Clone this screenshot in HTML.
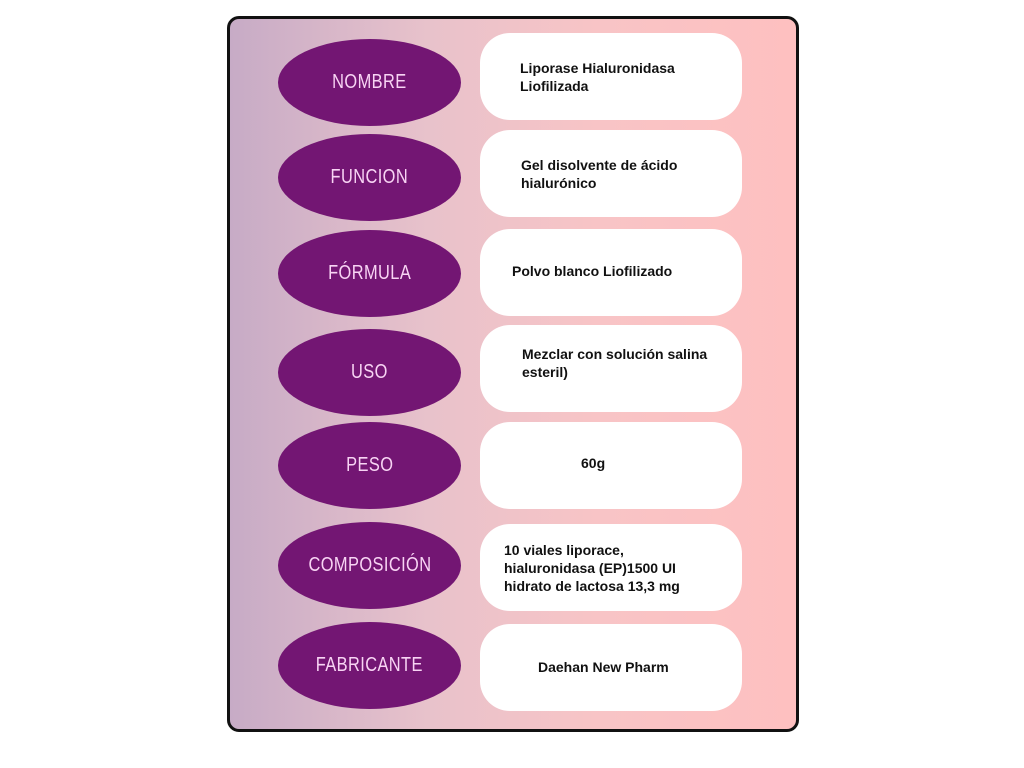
<!DOCTYPE html>
<html><head><meta charset="utf-8"><style>
body{margin:0;width:1024px;height:768px;background:#fff;position:relative;overflow:hidden;font-family:"Liberation Sans",sans-serif}
.panel{position:absolute;left:227px;top:16px;width:566px;height:710px;border:3px solid #111;border-radius:12px;background:linear-gradient(90deg,#c7abc6 0%,#e8c2cb 35%,#f8c4c6 65%,#fec0c0 100%)}
.el{position:absolute;left:278px;width:183px;height:87px;border-radius:50%;background:#731673;color:#f8d4f4;font-size:20px;display:flex;align-items:center;justify-content:center;letter-spacing:0.5px}
.el span{display:inline-block;transform:scaleX(0.82)}
.box{position:absolute;left:480px;width:262px;height:87px;border-radius:30px;background:#fff;font-weight:bold;font-size:14px;line-height:18px;color:#111;display:flex;align-items:center}
</style></head><body>
<div class="panel"></div>
<div class="el" style="top:39px"><span>NOMBRE</span></div>
<div class="el" style="top:134px"><span>FUNCION</span></div>
<div class="el" style="top:230px"><span>FÓRMULA</span></div>
<div class="el" style="top:329px"><span>USO</span></div>
<div class="el" style="top:422px"><span>PESO</span></div>
<div class="el" style="top:522px"><span>COMPOSICIÓN</span></div>
<div class="el" style="top:622px"><span>FABRICANTE</span></div>

<div class="box" style="top:33px"><div style="margin-left:40px">Liporase Hialuronidasa<br>Liofilizada</div></div>
<div class="box" style="top:130px"><div style="margin-left:41px">Gel disolvente de ácido<br>hialurónico</div></div>
<div class="box" style="top:229px"><div style="margin-left:32px;margin-top:-3px">Polvo blanco Liofilizado</div></div>
<div class="box" style="top:325px"><div style="margin-left:42px;margin-top:-12px">Mezclar con solución salina<br>esteril)</div></div>
<div class="box" style="top:422px"><div style="margin-left:101px;margin-top:-5px">60g</div></div>
<div class="box" style="top:524px"><div style="margin-left:24px">10 viales liporace,<br>hialuronidasa (EP)1500 UI<br>hidrato de lactosa 13,3 mg</div></div>
<div class="box" style="top:624px"><div style="margin-left:58px;margin-top:-2px">Daehan New Pharm</div></div>
</body></html>
